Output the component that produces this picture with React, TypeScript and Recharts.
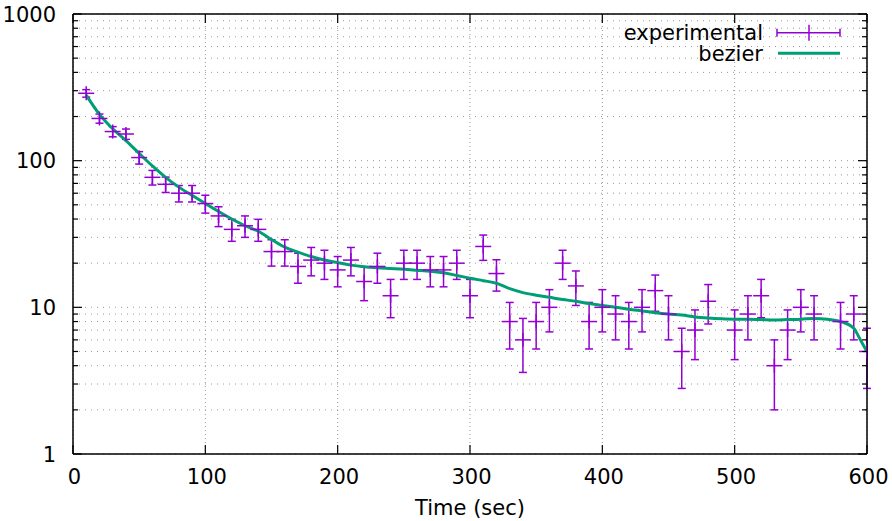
import React from "react";
import {
  ComposedChart,
  Scatter,
  Line,
  XAxis,
  YAxis,
  CartesianGrid,
  ErrorBar,
  Legend,
} from "recharts";

// measured counts (no points at 490 and 570)
const expTime = [
  10, 20, 30, 40, 50, 60, 70, 80, 90, 100, 110, 120, 130, 140, 150, 160, 170, 180, 190, 200,
  210, 220, 230, 240, 250, 260, 270, 280, 290, 300, 310, 320, 330, 340, 350, 360, 370, 380, 390, 400,
  410, 420, 430, 440, 450, 460, 470, 480, 500, 510, 520, 530, 540, 550, 560, 580, 590, 600,
];
const expCounts = [
  288, 194, 158, 152, 105, 77, 69, 60, 60, 51, 42, 34, 36, 34, 24, 24, 19, 21, 20, 18,
  21, 15, 19, 12, 20, 20, 18, 18, 20, 12, 26, 17, 8, 6, 8, 10, 20, 14, 8, 10,
  9, 8, 10, 13, 9, 5, 7, 11, 7, 9, 12, 4, 7, 10, 9, 8, 9, 5,
];
const expErrors = [
  17.0, 13.9, 12.6, 12.3, 10.2, 8.8, 8.3, 7.7, 7.7, 7.1, 6.5, 5.8, 6.0, 5.8, 4.9, 4.9, 4.4, 4.6, 4.5, 4.2,
  4.6, 3.9, 4.4, 3.5, 4.5, 4.5, 4.2, 4.2, 4.5, 3.5, 5.1, 4.1, 2.8, 2.4, 2.8, 3.2, 4.5, 3.7, 2.8, 3.2,
  3.0, 2.8, 3.2, 3.6, 3.0, 2.2, 2.6, 3.3, 2.6, 3.0, 3.5, 2.0, 2.6, 3.2, 3.0, 2.8, 3.0, 2.2,
];

// smoothed curve
const bezierTime = [
  10, 20, 30, 40, 50, 60, 70, 80, 90, 100, 110, 120, 130, 140, 150, 160, 170, 180, 190, 200,
  210, 220, 230, 240, 250, 260, 270, 280, 290, 300, 310, 320, 330, 340, 350, 360, 370, 380, 390, 400,
  410, 420, 430, 440, 450, 460, 470, 480, 490, 500, 510, 520, 530, 540, 550, 560, 570, 580, 590, 595, 600,
];
const bezierCounts = [
  280, 207, 165, 137, 112, 92, 77, 66, 58, 51, 45, 40, 36, 33, 29, 25.7, 23.8, 22.2, 21, 20.2,
  19.4, 18.9, 18.6, 18.4, 18.2, 17.9, 17.6, 17.2, 16.5, 15.8, 15.2, 14.6, 13.4, 12.6, 12.1, 11.7, 11.3, 11.0, 10.6, 10.3,
  10.0, 9.7, 9.45, 9.2, 9.0, 8.85, 8.6, 8.45, 8.35, 8.3, 8.3, 8.25, 8.2, 8.25, 8.3, 8.4, 8.3, 8.0, 7.2, 6.0, 5.0,
];

const xTicks = [0, 100, 200, 300, 400, 500, 600];
const yMajor = [1, 10, 100, 1000];
const yTicks = [
  1, 2, 3, 4, 5, 6, 7, 8, 9, 10, 20, 30, 40, 50, 60, 70, 80, 90,
  100, 200, 300, 400, 500, 600, 700, 800, 900, 1000,
];

const PURPLE = "#9400d3";
const GREEN = "#009e73";
const FONT = "'DejaVu Sans', sans-serif";
const FS = 21;

const expData = expTime.map((t, i) => ({ x: t, y: expCounts[i], err: expErrors[i] }));
const bezierData = bezierTime.map((t, i) => ({ x: t, y: bezierCounts[i] }));

const LeftTick = ({ x, y, payload }: any) => {
  const major = yMajor.includes(payload.value);
  return (
    <g>
      <line x1={x} x2={x + (major ? 9 : 5)} y1={y} y2={y} stroke="#000" strokeWidth={1.2} />
      {major && (
        <text x={x - 17} y={y} dy="0.36em" textAnchor="end" fontSize={FS} fontFamily={FONT} fill="#000">
          {payload.value}
        </text>
      )}
    </g>
  );
};

const RightTick = ({ x, y, payload }: any) => {
  const major = yMajor.includes(payload.value);
  return <line x1={x} x2={x - (major ? 9 : 5)} y1={y} y2={y} stroke="#000" strokeWidth={1.2} />;
};

const BottomTick = ({ x, y, payload }: any) => (
  <g>
    <line x1={x} x2={x} y1={y} y2={y - 9} stroke="#000" strokeWidth={1.2} />
    <text x={x + 1.5} y={y + 30} textAnchor="middle" fontSize={FS} fontFamily={FONT} fill="#000">
      {payload.value}
    </text>
  </g>
);

const TopTick = ({ x, y }: any) => (
  <line x1={x} x2={x} y1={y} y2={y + 9} stroke="#000" strokeWidth={1.2} />
);

const PlusMark = ({ cx, cy }: any) => (
  <g stroke={PURPLE} strokeWidth={1.5}>
    <line x1={cx - 8} x2={cx + 8} y1={cy} y2={cy} />
    <line x1={cx} x2={cx} y1={cy - 7} y2={cy + 7} />
  </g>
);

const LegendBox = () => (
  <svg width={260} height={52} style={{ display: "block" }}>
    <text x={163} y={22} textAnchor="end" fontSize={FS} fontFamily={FONT} fill="#000">
      experimental
    </text>
    <g stroke={PURPLE} strokeWidth={1.5}>
      <line x1={177} x2={240} y1={14.7} y2={14.7} />
      <line x1={177} x2={177} y1={10.7} y2={18.7} />
      <line x1={240} x2={240} y1={10.7} y2={18.7} />
      <line x1={209} x2={209} y1={6.7} y2={22.7} />
    </g>
    <text x={163} y={43} textAnchor="end" fontSize={FS} fontFamily={FONT} fill="#000">
      bezier
    </text>
    <line x1={178} x2={240} y1={35.3} y2={35.3} stroke={GREEN} strokeWidth={3} />
  </svg>
);

export default function App() {
  return (
    <div style={{ position: "absolute", left: 0, top: 0, background: "#fff" }}>
      <ComposedChart
        width={892}
        height={521}
        margin={{ top: 0, right: 0, bottom: 0, left: 0 }}
        style={{ fontFamily: FONT }}
      >
        <CartesianGrid
          xAxisId="bottom"
          yAxisId="left"
          vertical={false}
          stroke="#9a9a9a"
          strokeDasharray="1 5"
        />
        <CartesianGrid
          xAxisId="bottom"
          yAxisId="left"
          horizontal={false}
          stroke="#9a9a9a"
          strokeDasharray="1 3"
        />
        <XAxis
          xAxisId="bottom"
          dataKey="x"
          type="number"
          domain={[0, 600]}
          ticks={xTicks}
          interval={0}
          height={67}
          tickSize={0}
          tickMargin={0}
          tickLine={false}
          tick={<BottomTick />}
          axisLine={{ stroke: "#000", strokeWidth: 1.5 }}
          allowDataOverflow
          label={{
            value: "Time (sec)",
            position: "insideBottom",
            offset: 6,
            fontSize: FS,
            fontFamily: FONT,
            fill: "#000",
          }}
        />
        <XAxis
          xAxisId="top"
          orientation="top"
          dataKey="x"
          type="number"
          domain={[0, 600]}
          ticks={xTicks}
          interval={0}
          height={14}
          tickSize={0}
          tickMargin={0}
          tickLine={false}
          tick={<TopTick />}
          axisLine={{ stroke: "#000", strokeWidth: 1.5 }}
          allowDataOverflow
        />
        <YAxis
          yAxisId="left"
          dataKey="y"
          type="number"
          scale="log"
          domain={[1, 1000]}
          ticks={yTicks}
          interval={0}
          width={73}
          tickSize={0}
          tickMargin={0}
          tickLine={false}
          tick={<LeftTick />}
          axisLine={{ stroke: "#000", strokeWidth: 1.5 }}
          allowDataOverflow
        />
        <YAxis
          yAxisId="right"
          orientation="right"
          dataKey="y"
          type="number"
          scale="log"
          domain={[1, 1000]}
          ticks={yTicks}
          interval={0}
          width={25}
          tickSize={0}
          tickMargin={0}
          tickLine={false}
          tick={<RightTick />}
          axisLine={{ stroke: "#000", strokeWidth: 1.5 }}
          allowDataOverflow
        />
        <Scatter
          name="experimental"
          data={expData}
          dataKey="y"
          xAxisId="bottom"
          yAxisId="left"
          shape={<PlusMark />}
          isAnimationActive={false}
        >
          <ErrorBar dataKey="err" direction="y" width={4} stroke={PURPLE} strokeWidth={1.5} />
        </Scatter>
        <Line
          name="bezier"
          data={bezierData}
          dataKey="y"
          xAxisId="top"
          yAxisId="right"
          type="monotone"
          stroke={GREEN}
          strokeWidth={3}
          dot={false}
          activeDot={false}
          isAnimationActive={false}
        />
        <Legend
          layout="vertical"
          align="center"
          verticalAlign="middle"
          content={<LegendBox />}
          wrapperStyle={{ top: 18, left: 600, width: 260, height: 52 }}
        />
      </ComposedChart>
    </div>
  );
}
